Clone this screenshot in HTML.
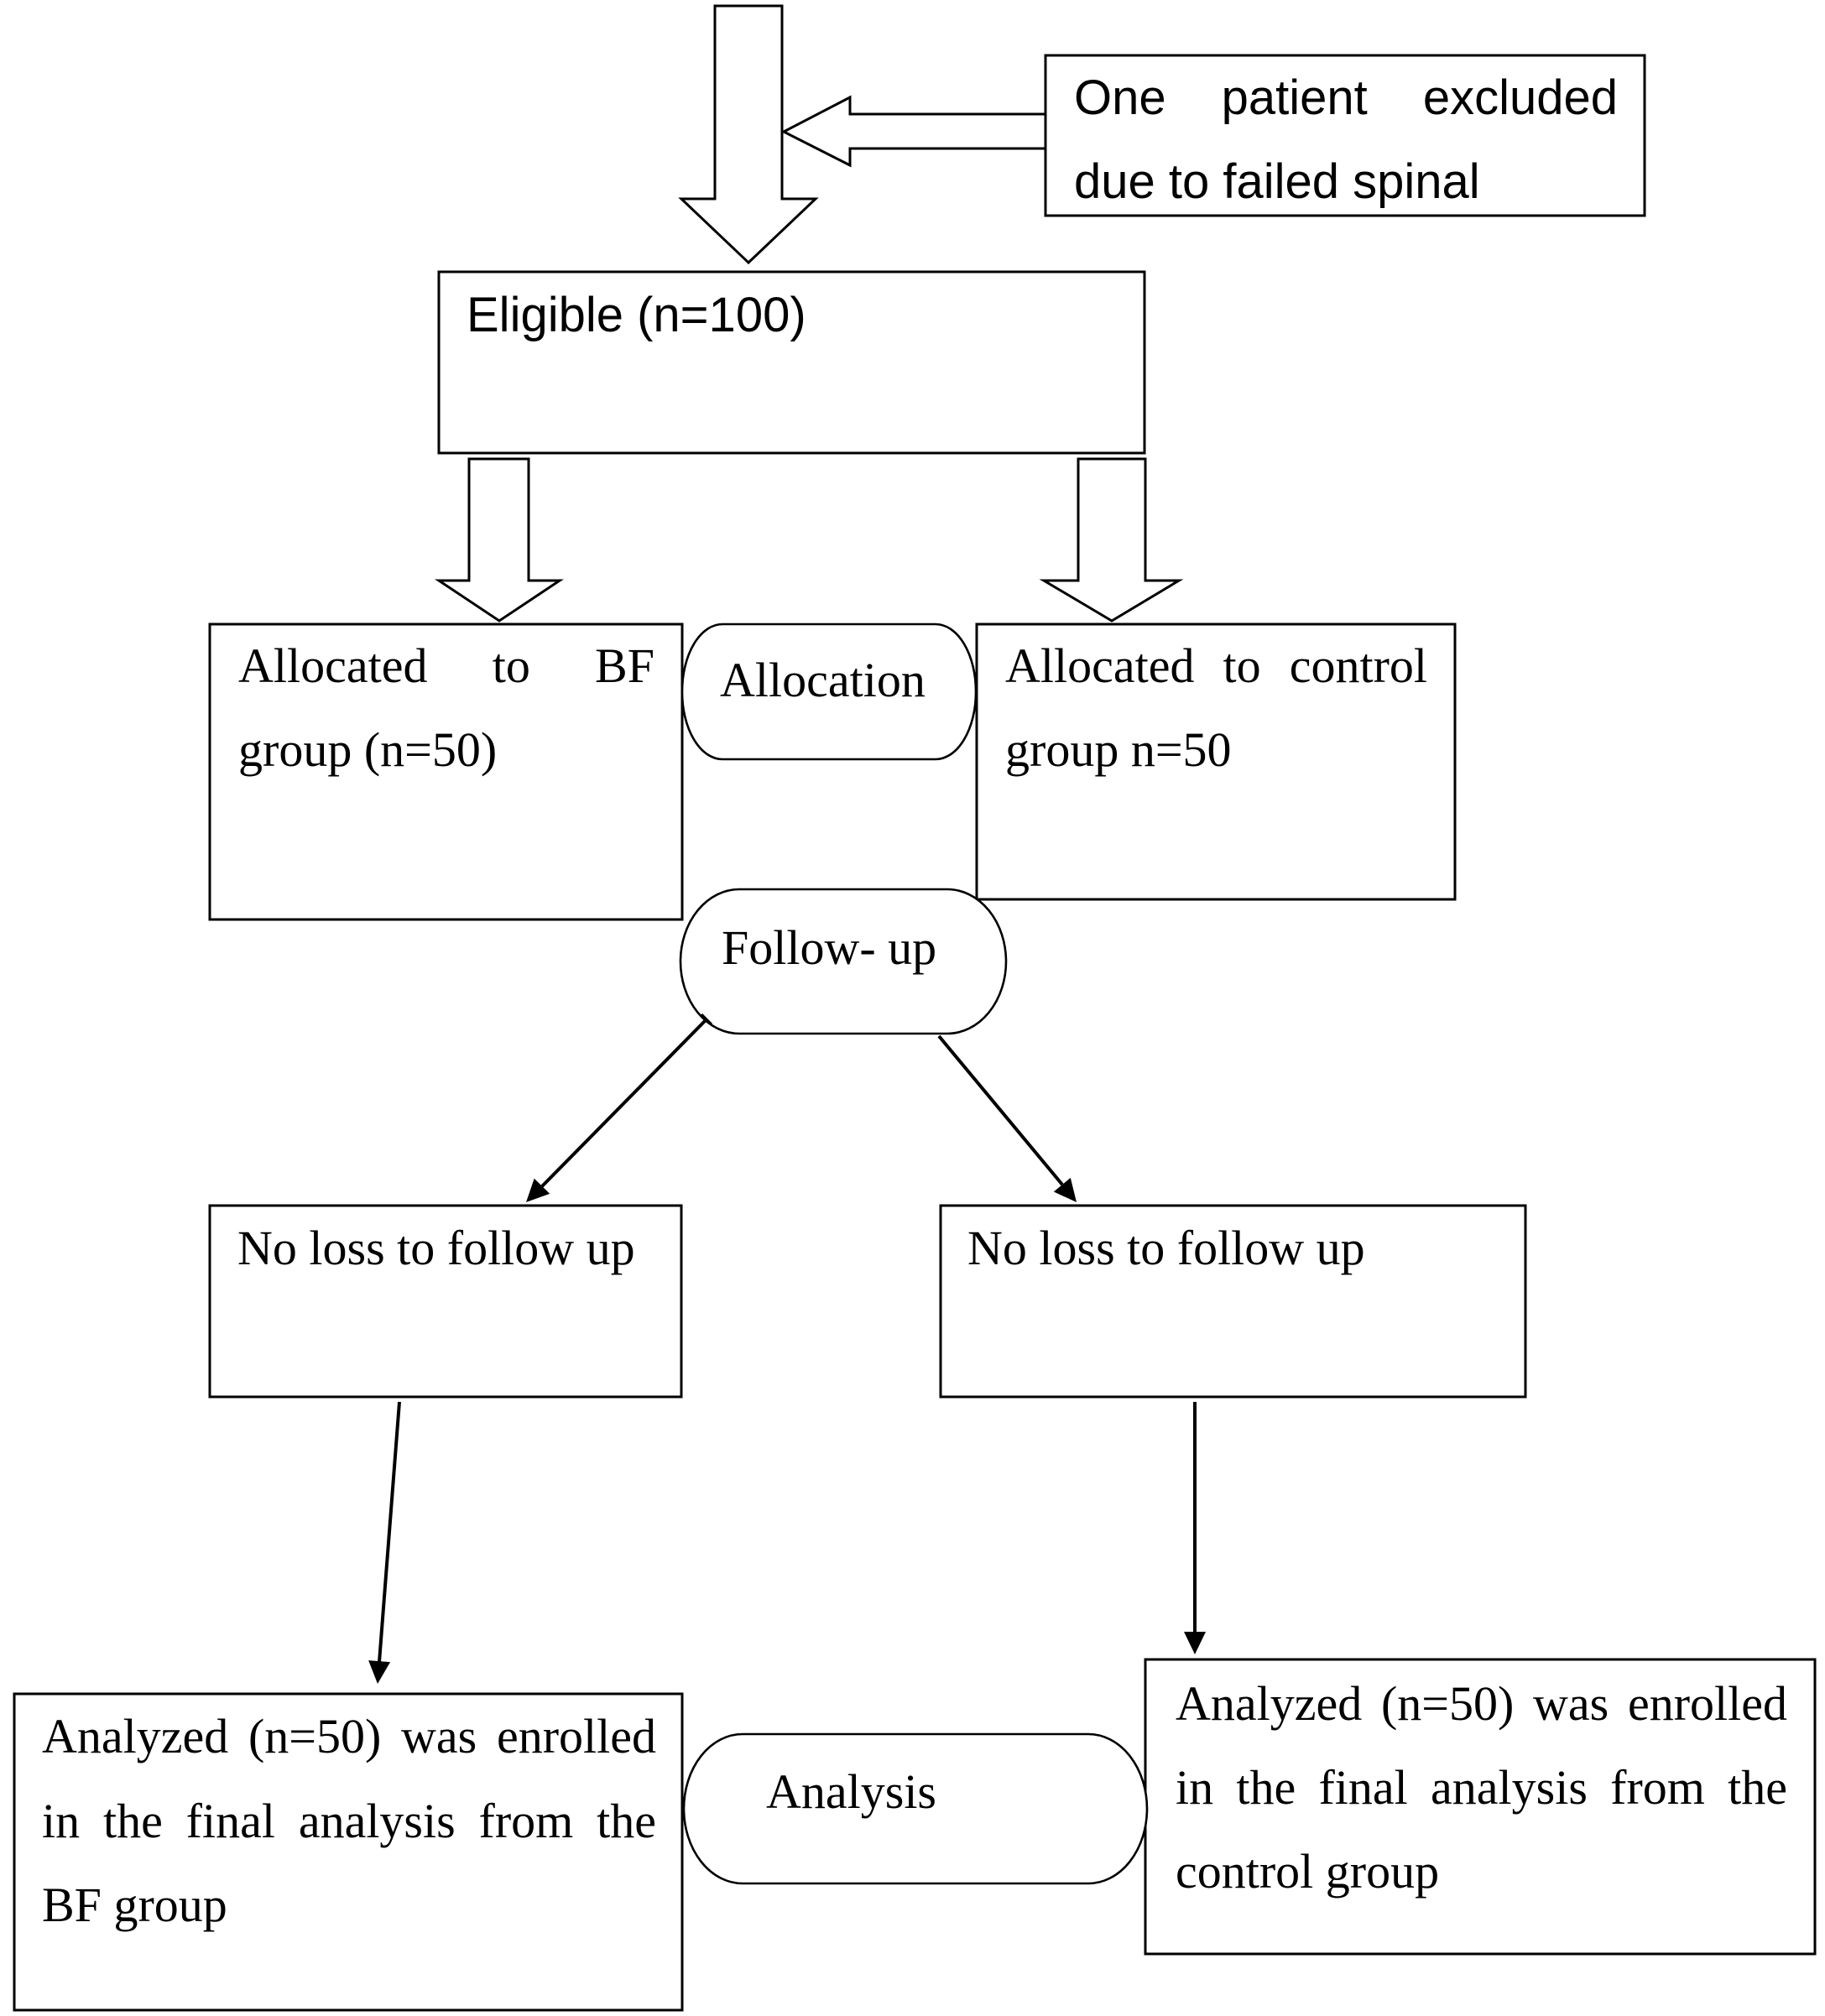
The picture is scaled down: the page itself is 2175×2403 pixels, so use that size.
<!DOCTYPE html>
<html>
<head>
<meta charset="utf-8">
<style>
  html, body { margin:0; padding:0; background:#fff; }
  body { width:2175px; height:2403px; position:relative; overflow:hidden; }
  svg { position:absolute; left:0; top:0; }
  .t { position:absolute; font-size:58px; line-height:58px; color:#000; white-space:nowrap; }
  .serif { font-family:"Liberation Serif", "Times New Roman", serif; }
  .sans { font-family:"Liberation Sans", Arial, sans-serif; }
  .j { white-space:normal; text-align:justify; text-align-last:justify; }
</style>
</head>
<body>
<svg width="2175" height="2403" viewBox="0 0 2175 2403" xmlns="http://www.w3.org/2000/svg">
  <g fill="#fff" stroke="#000" stroke-width="3" stroke-linejoin="miter">
    <polygon points="852,7 932,7 932,237 972,237 892,313 812,237 852,237"/>
    <polyline points="1246,136 1013,136 1013,116 934,157 1013,197 1013,177 1246,177"/>
    <rect x="1246" y="66" width="714" height="191"/>
    <rect x="523" y="324" width="841" height="216"/>
    <polygon points="559,547 630,547 630,692 667,692 595,740 523,692 559,692"/>
    <polygon points="1285,547 1365,547 1365,692 1405,692 1325,740 1244,692 1285,692"/>
    <rect x="250" y="744" width="563" height="352"/>
    <rect x="1164" y="744" width="570" height="328"/>
    <rect x="250" y="1437" width="562" height="228"/>
    <rect x="1121" y="1437" width="697" height="228"/>
    <rect x="17" y="2019" width="796" height="377"/>
    <rect x="1365" y="1978" width="798" height="351"/>
  </g>
  <g fill="#fff" stroke="#000" stroke-width="2.6">
    <rect x="813" y="744" width="350" height="161" rx="48" ry="80"/>
    <rect x="811" y="1060" width="388" height="172" rx="70" ry="86"/>
    <rect x="815" y="2067" width="552" height="178" rx="70" ry="89"/>
  </g>
  <g stroke="#000" stroke-width="4" fill="none">
    <line x1="842" y1="1215" x2="646" y2="1414"/>
    <line x1="836" y1="1209" x2="848" y2="1221" stroke-width="3"/>
    <line x1="1119" y1="1235" x2="1266" y2="1412"/>
    <line x1="476" y1="1671" x2="452" y2="1981"/>
    <line x1="1424" y1="1671" x2="1424" y2="1946"/>
  </g>
  <g fill="#000" stroke="none">
    <polygon points="627,1433 636.7,1404.7 655.2,1422.9"/>
    <polygon points="1283,1433 1255.8,1420.5 1275.8,1403.9"/>
    <polygon points="450,2007 439.1,1979.1 465.1,1981.1"/>
    <polygon points="1424,1972 1411,1945 1437,1945"/>
  </g>
</svg>

<div class="t sans j" style="left:1280px; top:88px; width:648px;">One patient excluded</div>
<div class="t sans" style="left:1280px; top:188px;">due to failed spinal</div>

<div class="t sans" style="left:556px; top:347px;">Eligible (n=100)</div>

<div class="t serif j" style="left:284px; top:765px; width:496px;">Allocated to BF</div>
<div class="t serif" style="left:284px; top:865px;">group (n=50)</div>

<div class="t serif" style="left:858px; top:782px;">Allocation</div>

<div class="t serif j" style="left:1198px; top:765px; width:503px;">Allocated to control</div>
<div class="t serif" style="left:1198px; top:865px;">group n=50</div>

<div class="t serif" style="left:860px; top:1101px;">Follow- up</div>

<div class="t serif" style="left:283px; top:1459px;">No loss to follow up</div>
<div class="t serif" style="left:1153px; top:1459px;">No loss to follow up</div>

<div class="t serif j" style="left:50px; top:2041px; width:732px;">Analyzed (n=50) was enrolled</div>
<div class="t serif j" style="left:50px; top:2142px; width:732px;">in the final analysis from the</div>
<div class="t serif" style="left:50px; top:2242px;">BF group</div>

<div class="t serif" style="left:913px; top:2107px;">Analysis</div>

<div class="t serif j" style="left:1401px; top:2002px; width:729px;">Analyzed (n=50) was enrolled</div>
<div class="t serif j" style="left:1401px; top:2102px; width:729px;">in the final analysis from the</div>
<div class="t serif" style="left:1401px; top:2202px;">control group</div>
</body>
</html>
